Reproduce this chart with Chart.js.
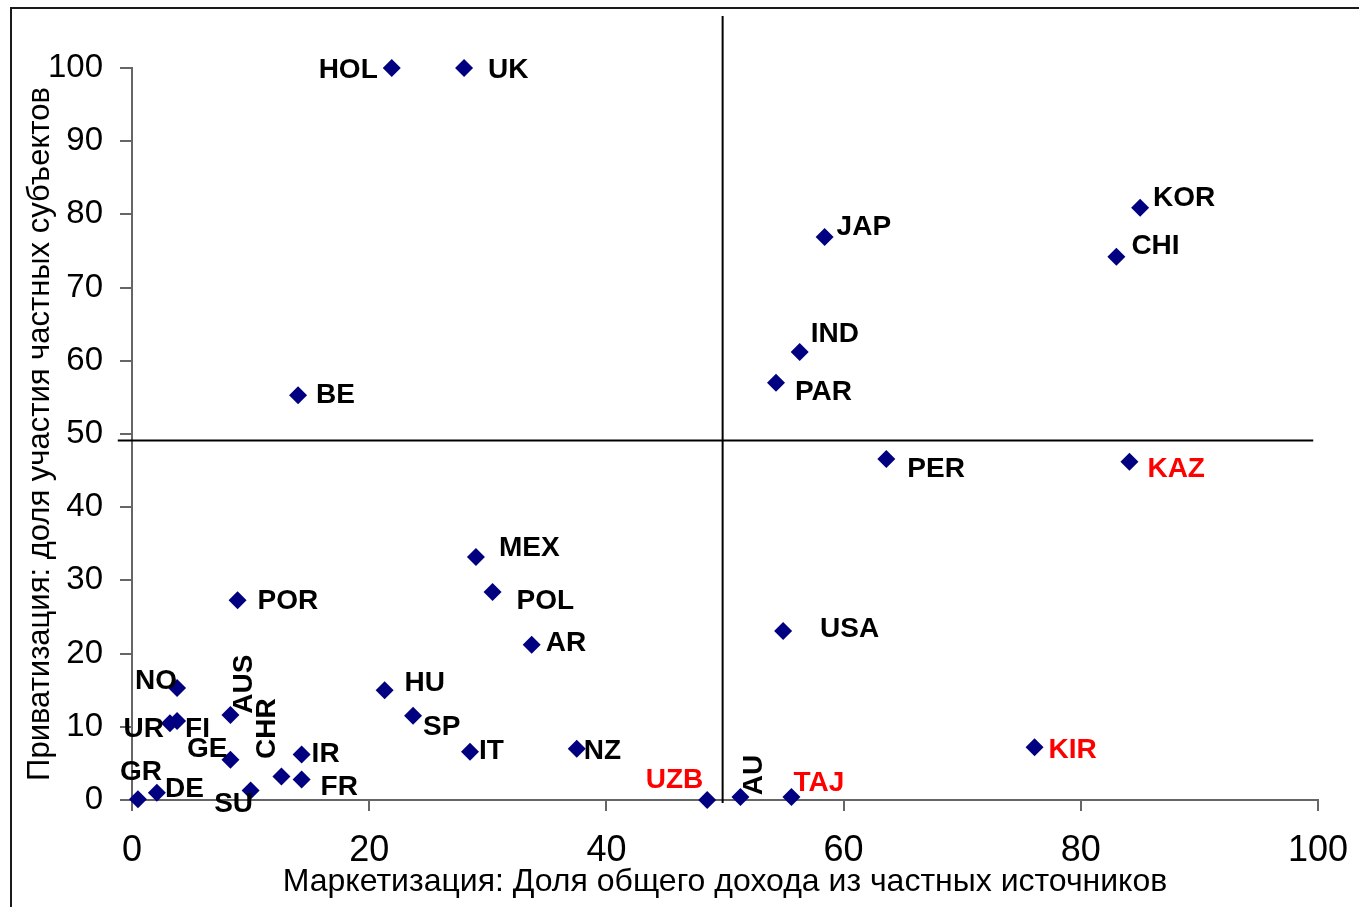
<!DOCTYPE html>
<html>
<head>
<meta charset="utf-8">
<script src="https://cdn.jsdelivr.net/npm/chart.js@4/dist/chart.umd.min.js"></script>
<style>
  html, body { margin: 0; padding: 0; background: #fff; }
  #wrap { position: relative; width: 1359px; height: 907px; }
</style>
</head>
<body>
<div id="wrap"><canvas id="chart"></canvas></div>
<script>
// ===== data =====
const countries = ['HOL', 'UK', 'BE', 'JAP', 'KOR', 'CHI', 'IND', 'PAR', 'PER', 'KAZ',
    'MEX', 'POL', 'AR', 'USA', 'POR', 'HU', 'SP', 'IT', 'NZ', 'KIR',
    'UZB', 'AU', 'TAJ', 'NO', 'UR', 'FI', 'AUS', 'GE', 'IR', 'CHR',
    'FR', 'SU', 'GR', 'DE'];
// Маркетизация (x)
const marketization = [21.9, 28.0, 14.0, 58.4, 85.0, 83.0, 56.3, 54.3, 63.6, 84.1,
    29.0, 30.4, 33.7, 54.9, 8.9, 21.3, 23.7, 28.5, 37.5, 76.1,
    48.5, 51.3, 55.6, 3.8, 3.2, 3.8, 8.3, 8.3, 14.3, 12.6,
    14.3, 10.0, 0.5, 2.1];
// Приватизация (y)
const privatization = [100, 100, 55.3, 76.9, 80.9, 74.2, 61.2, 57.0, 46.6, 46.2,
    33.2, 28.4, 21.2, 23.1, 27.3, 15.0, 11.5, 6.6, 7.0, 7.2,
    0, 0.4, 0.4, 15.3, 10.5, 10.8, 11.6, 5.5, 6.2, 3.2,
    2.8, 1.3, 0.1, 1.0];
const redCountries = ['KAZ', 'KIR', 'UZB', 'TAJ'];
const xTickValues = [0, 20, 40, 60, 80, 100];
const yTickValues = [0, 10, 20, 30, 40, 50, 60, 70, 80, 90, 100];
const splitX = 49.8;
const splitY = 49.1;

const xTitle = 'Маркетизация: Доля общего дохода из частных источников';
const yTitle = 'Приватизация: доля участия частных субъектов';

// ===== label placement (px offsets from the marker) =====
const labelPlace = {
    HOL: [-14, 2, 'right'], UK: [24, 2, 'left'], BE: [18, 0, 'left'],
    JAP: [12, -10, 'left'], KOR: [13, -10, 'left'], CHI: [15, -11, 'left'],
    IND: [11, -18, 'left'], PAR: [19, 10, 'left'], PER: [21, 10, 'left'],
    KAZ: [18, 7, 'left'], MEX: [23, -9, 'left'], POL: [24, 9, 'left'],
    AR: [14, -2, 'left'], USA: [37, -2, 'left'], POR: [20, 1, 'left'],
    HU: [20, -7, 'left'], SP: [10, 11, 'left'], IT: [9, 0, 'left'],
    NZ: [7, 3, 'left'], KIR: [14, 3, 'left'], UZB: [-4, -20, 'right'],
    AU: [14, -22, 'center', true], TAJ: [2, -14, 'left'],
    NO: [0, -7, 'right'], UR: [-6, 6, 'right'], FI: [8, 8, 'left'],
    AUS: [14, -31, 'center', true], GE: [-3, -10, 'right'],
    IR: [10, 0, 'left'], CHR: [-14, -48, 'center', true],
    FR: [19, 8, 'left'], SU: [-17, 14, 'center'], GR: [3, -27, 'center'],
    DE: [8, -3, 'left']
};

const points = countries.map((c, i) => ({ x: marketization[i], y: privatization[i] }));

const labelsPlugin = {
    id: 'pointLabels',
    afterDatasetsDraw(chart) {
        const ctx = chart.ctx;
        const meta = chart.getDatasetMeta(0);
        const area = chart.chartArea;
        ctx.save();
        ctx.beginPath();
        ctx.rect(0, 0, chart.width, area.bottom + 15);
        ctx.clip();
        ctx.font = 'bold 28px "Liberation Sans", Arial, sans-serif';
        ctx.textBaseline = 'middle';
        meta.data.forEach((pt, i) => {
            const name = countries[i];
            const p = labelPlace[name] || [14, 0, 'left'];
            ctx.fillStyle = redCountries.includes(name) ? '#ff0000' : '#000000';
            ctx.save();
            ctx.translate(pt.x + p[0], pt.y + p[1]);
            if (p[3]) ctx.rotate(-Math.PI / 2);
            ctx.textAlign = p[2];
            ctx.fillText(name, 0, 0);
            ctx.restore();
        });
        ctx.restore();
    }
};

const framePlugin = {
    id: 'frame',
    beforeDraw(chart) {
        const ctx = chart.ctx;
        ctx.save();
        ctx.strokeStyle = '#1a1a1a';
        ctx.lineWidth = 2;
        ctx.beginPath();
        ctx.moveTo(11, chart.height);
        ctx.lineTo(11, 8);
        ctx.lineTo(chart.width, 8);
        ctx.stroke();
        ctx.restore();
    }
};

const axisColor = '#666666';

new Chart(document.getElementById('chart'), {
    type: 'scatter',
    data: {
        datasets: [
            {
                data: points,
                pointStyle: 'rectRot',
                pointRadius: 9,
                pointHoverRadius: 9,
                backgroundColor: '#000080',
                borderColor: '#000080',
                borderWidth: 0,
                clip: false
            },
            {
                type: 'line',
                data: [{ x: splitX, y: -0.4 }, { x: splitX, y: 107.1 }],
                borderColor: '#000000',
                borderWidth: 2,
                pointRadius: 0,
                clip: false
            },
            {
                type: 'line',
                data: [{ x: -1.2, y: splitY }, { x: 99.6, y: splitY }],
                borderColor: '#000000',
                borderWidth: 2,
                pointRadius: 0,
                clip: false
            }
        ]
    },
    options: {
        responsive: true,
        maintainAspectRatio: false,
        animation: false,
        layout: { padding: { top: 68, right: 41, left: 0, bottom: 0 } },
        plugins: {
            legend: { display: false },
            tooltip: { enabled: false }
        },
        scales: {
            x: {
                type: 'linear',
                min: 0,
                max: 100,
                afterFit: (s) => { s.height = 107; s.paddingRight = 0; s.paddingLeft = 0; },
                afterBuildTicks: (s) => { s.ticks = xTickValues.map(v => ({ value: v })); },
                border: { display: true, color: axisColor, width: 2 },
                grid: { drawOnChartArea: false, drawTicks: true, tickLength: 11, color: axisColor, lineWidth: 2 },
                ticks: {
                    color: '#000',
                    padding: 18,
                    maxRotation: 0,
                    font: { family: '"Liberation Sans", Arial', size: 36 }
                },
                title: {
                    display: true,
                    text: xTitle,
                    color: '#000',
                    padding: { top: 0, bottom: 6 },
                    font: { family: '"Liberation Sans", Arial', size: 32 }
                }
            },
            y: {
                type: 'linear',
                min: 0,
                max: 100,
                afterFit: (s) => { s.width = 132; },
                afterBuildTicks: (s) => { s.ticks = yTickValues.map(v => ({ value: v })); },
                border: { display: true, color: axisColor, width: 2 },
                grid: { drawOnChartArea: false, drawTicks: true, tickLength: 12, color: axisColor, lineWidth: 2 },
                ticks: {
                    color: '#000',
                    padding: 17,
                    font: { family: '"Liberation Sans", Arial', size: 33 }
                },
                title: {
                    display: true,
                    text: yTitle,
                    color: '#000',
                    padding: { top: 22, bottom: 0 },
                    font: { family: '"Liberation Sans", Arial', size: 31 }
                }
            }
        }
    },
    plugins: [framePlugin, labelsPlugin]
});
</script>
</body>
</html>
